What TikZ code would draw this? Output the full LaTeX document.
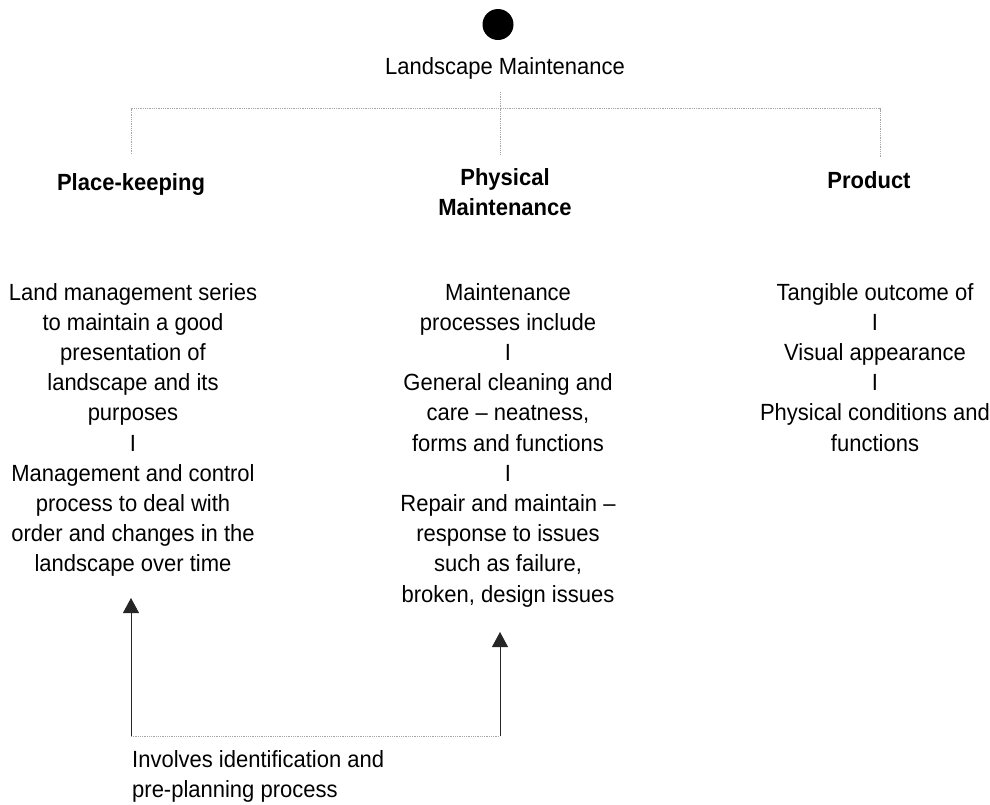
\documentclass[tikz,border=0pt]{standalone}
\usepackage{fontspec}
\setmainfont{Liberation Sans}[FakeStretch=0.94]
\usetikzlibrary{arrows.meta}
\begin{document}
\begin{tikzpicture}[x=1pt,y=-1pt,
  body/.style={inner sep=0pt, anchor=north, align=center,
    font=\fontsize{23.4}{30.2}\selectfont,
    execute at begin node={\rule{0pt}{20pt}}},
  head/.style={body, font=\bfseries\fontsize{23.4}{30}\selectfont},
  tree/.style={draw=gray!70, line width=0.9pt, dash pattern=on 0.9pt off 0.9pt},
  feed/.style={draw=black!85, line width=0.8pt},
  tipped/.style={-{Triangle[width=16pt,length=15pt]}}
]
\useasboundingbox (0,0) rectangle (990,804);

% root of the hierarchy
\node[circle, fill=black, minimum size=31pt, inner sep=0pt] (dot) at (498,24.5) {};
\node[body] (root) at (505,54) {Landscape Maintenance};

% the three branches
\node[head] (keep) at (131,170) {Place-keeping};
\node[head] (phys) at (505,168) {Physical\\Maintenance};
\node[head] (prod) at (869,168) {Product};

% descriptions under each branch
\node[body] (keeptxt) at (133,283) {Land management series\\to maintain a good\\presentation of\\landscape and its\\purposes\\I\\Management and control\\process to deal with\\order and changes in the\\landscape over time};
\node[body] (phystxt) at (508,283) {Maintenance\\processes include\\I\\General cleaning and\\care – neatness,\\forms and functions\\I\\Repair and maintain –\\response to issues\\such as failure,\\broken, design issues};
\node[body] (prodtxt) at (875,283) {Tangible outcome of\\I\\Visual appearance\\I\\Physical conditions and\\functions};

\node[body, anchor=north west, align=left] (note) at (132,750) {Involves identification and\\pre-planning process};

% tree connectors
\coordinate (rootfoot) at (500,92);
\coordinate (hub) at (500,108.5);
\coordinate (keeptop) at (131,154);
\coordinate (phystop) at (500,154);
\coordinate (prodtop) at (880,157);
\draw[tree] (rootfoot) -- (hub);
\draw[tree] (keeptop) |- (hub) -| (prodtop);
\draw[tree] (hub) -- (phystop);

% feedback loop from the identification note
\coordinate (loopL) at (131,736);
\coordinate (loopR) at (500,736);
\coordinate (tipL) at (131,598);
\coordinate (tipR) at (500,632);
\draw[tree] (loopL) -- (loopR);
\draw[feed, tipped] (loopL) -- (tipL);
\draw[feed, tipped] (loopR) -- (tipR);
\end{tikzpicture}
\end{document}
